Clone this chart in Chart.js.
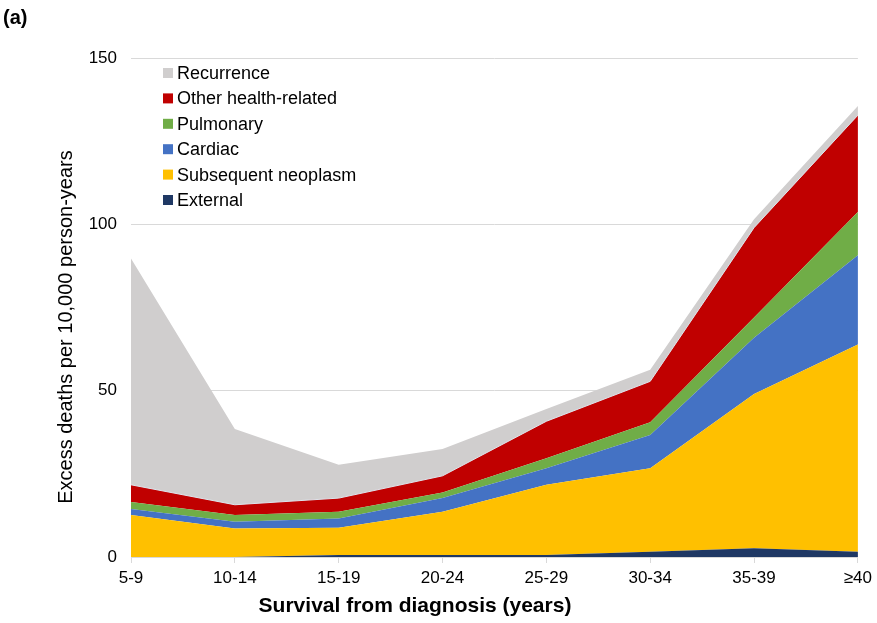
<!DOCTYPE html>
<html>
<head>
<meta charset="utf-8">
<script src="https://cdn.jsdelivr.net/npm/chart.js@4.4.0/dist/chart.umd.min.js"></script>
<style>
  body { margin: 0; background: #fff; }
</style>
</head>
<body>
<canvas id="excess" width="877" height="623"></canvas>
<script>
const periods = ["5-9", "10-14", "15-19", "20-24", "25-29", "30-34", "35-39", "≥40"];
const external = [0, 0, 0.6, 0.6, 0.6, 1.6, 2.6, 1.6];
const neoplasm = [12.6, 8.6, 8.2, 13.0, 21.1, 25.1, 46.4, 62.3];
const cardiac = [1.8, 2.0, 2.8, 4.1, 5.0, 10.0, 16.9, 26.8];
const pulmonary = [2.1, 2.0, 2.0, 1.7, 3.0, 3.8, 6.1, 13.0];
const otherHealth = [5.2, 3.1, 4.1, 5.0, 11.1, 12.3, 27.0, 29.1];
const recurrence = [68.0, 22.8, 10.0, 8.1, 3.7, 3.5, 2.5, 2.8];
const yTicks = [0, 50, 100, 150];

const font = "'Liberation Sans', Arial, sans-serif";

function area(label, data, color) {
  return {
    label: label,
    data: data,
    backgroundColor: color,
    borderColor: color,
    borderWidth: 0,
    pointRadius: 0,
    tension: 0,
    fill: "stack",
  };
}

// legend inside the plot + axis titles placed like the Excel original
const extras = {
  id: "extras",
  afterDraw(chart) {
    const c = chart.ctx;
    const sets = chart.data.datasets.slice().reverse();
    c.save();
    c.font = "18px " + font;
    c.textBaseline = "middle";
    c.textAlign = "left";
    sets.forEach((ds, i) => {
      const y = 73 + i * 25.4;
      c.fillStyle = ds.backgroundColor;
      c.fillRect(163, y - 5, 10, 10);
      c.fillStyle = "#000";
      c.fillText(ds.label, 177, y + 1);
    });
    c.font = "bold 20px " + font;
    c.fillText("(a)", 3, 18);

    c.textAlign = "center";
    c.font = "bold 21px " + font;
    c.fillText("Survival from diagnosis (years)", 415, 606);

    c.translate(66, 327);
    c.rotate(-Math.PI / 2);
    c.font = "20px " + font;
    c.fillText("Excess deaths per 10,000 person-years", 0, 0);
    c.restore();
  },
};

const other = area("Other health-related", otherHealth, "#c00000");
other.borderColor = "#dde6ee";
other.borderWidth = 1;

new Chart(document.getElementById("excess").getContext("2d"), {
  type: "line",
  data: {
    labels: periods,
    datasets: [
      area("External", external, "#1f3864"),
      area("Subsequent neoplasm", neoplasm, "#ffc000"),
      area("Cardiac", cardiac, "#4472c4"),
      area("Pulmonary", pulmonary, "#70ad47"),
      other,
      area("Recurrence", recurrence, "#d0cece"),
    ],
  },
  options: {
    responsive: false,
    animation: false,
    layout: { padding: { left: 0, right: 16, top: 58, bottom: 0 } },
    plugins: { legend: { display: false }, tooltip: { enabled: false } },
    scales: {
      x: {
        offset: false,
        grid: { drawOnChartArea: false, drawTicks: true, tickLength: 6, color: "#d9d9d9" },
        border: { color: "#d9d9d9" },
        ticks: { color: "#000", font: { family: font, size: 17 }, padding: 5, maxRotation: 0 },
        afterFit(scale) { scale.height = 66; },
      },
      y: {
        stacked: true,
        min: 0,
        max: 150,
        afterBuildTicks(scale) { scale.ticks = yTicks.map((v) => ({ value: v })); },
        grid: { drawTicks: false, color: "#d9d9d9" },
        border: { display: false },
        ticks: { color: "#000", font: { family: font, size: 17 }, padding: 14 },
        afterFit(scale) { scale.width = 131; },
      },
    },
  },
  plugins: [extras],
});
</script>
</body>
</html>
